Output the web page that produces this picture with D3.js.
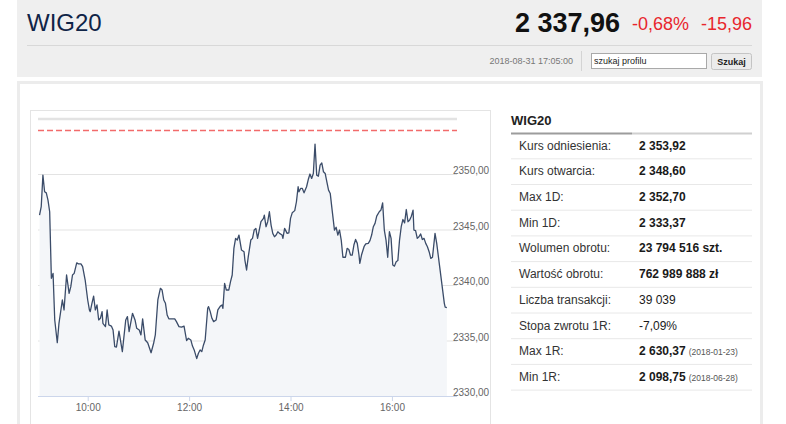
<!DOCTYPE html>
<html>
<head>
<meta charset="utf-8">
<script src="https://cdn.jsdelivr.net/npm/d3@7"></script>
<style>
    body { margin: 0; background: #fff; }
    svg text { font-family: "Liberation Sans", Arial, sans-serif; }
</style>
</head>
<body>
<div id="page"></div>
<script>

// intraday quotes WIG20, 2018-08-31
const times = [
    "09:03","09:05","09:07","09:09","09:11","09:13","09:15","09:17","09:19","09:21",
    "09:24","09:26","09:30","09:32","09:35","09:38","09:40","09:42","09:44","09:47",
    "09:49","09:52","09:54","09:57","10:00","10:02","10:03","10:05","10:07","10:09",
    "10:11","10:13","10:15","10:17","10:18","10:21","10:23","10:25","10:28","10:30",
    "10:32","10:34","10:37","10:41","10:45","10:47","10:49","10:53","10:56","10:58",
    "11:01","11:03","11:05","11:08","11:11","11:15","11:18","11:20","11:23","11:26",
    "11:28","11:30","11:32","11:34","11:36","11:39","11:43","11:45","11:48","11:51",
    "11:54","11:57","11:59","12:02","12:04","12:06","12:09","12:11","12:13","12:15",
    "12:17","12:19","12:22","12:23","12:25","12:27","12:29","12:32","12:34","12:37",
    "12:39","12:40","12:42","12:44","12:47","12:49","12:51","12:53","12:55","12:57",
    "12:59","13:02","13:05","13:06","13:08","13:10","13:13","13:15","13:17","13:19",
    "13:21","13:23","13:25","13:28","13:29","13:31","13:33","13:35","13:37","13:39",
    "13:41","13:43","13:45","13:47","13:50","13:51","13:53","13:56","13:58","14:00",
    "14:02","14:05","14:07","14:09","14:10","14:12","14:14","14:16","14:19","14:21",
    "14:23","14:25","14:27","14:29","14:31","14:33","14:35","14:37","14:39","14:41",
    "14:43","14:45","14:47","14:49","14:52","14:54","14:56","14:58","15:00","15:02",
    "15:05","15:07","15:09","15:11","15:13","15:15","15:17","15:19","15:21","15:22",
    "15:24","15:27","15:29","15:32","15:34","15:36","15:38","15:40","15:42","15:45",
    "15:47","15:49","15:51","15:53","15:55","15:57","15:59","16:01","16:03","16:05",
    "16:07","16:09","16:11","16:13","16:15","16:17","16:19","16:21","16:23","16:25",
    "16:26","16:28","16:30","16:32","16:34","16:36","16:38","16:40","16:42","16:44",
    "16:46","16:48","16:51","16:53","16:56","16:59","17:02","17:03","17:05"
];

const quotes = [
    2346.3, 2347.05, 2349.9, 2348.4, 2348.3, 2347.65, 2346.6, 2340.6, 2341.05, 2336.85,
    2334.8, 2336.55, 2338.65, 2337.75, 2340.9, 2339.25, 2339.85, 2340.9, 2341.05, 2342.0,
    2341.9, 2341.9, 2341.65, 2340.45, 2338.65, 2337.75, 2337.6, 2338.35, 2339.0, 2337.75,
    2338.2, 2336.85, 2337.0, 2337.6, 2336.55, 2336.25, 2337.75, 2336.4, 2336.3, 2335.95,
    2334.45, 2334.4, 2335.85, 2334.0, 2336.85, 2337.15, 2335.8, 2337.45, 2336.85, 2336.1,
    2335.95, 2335.5, 2336.95, 2335.05, 2334.8, 2333.9, 2334.75, 2335.5, 2338.65, 2339.7,
    2339.55, 2338.65, 2338.35, 2337.3, 2336.95, 2336.95, 2336.95, 2336.7, 2336.25, 2336.2,
    2336.3, 2335.0, 2335.2, 2335.05, 2334.5, 2334.15, 2333.37, 2333.85, 2334.15, 2334.0,
    2334.6, 2335.05, 2337.9, 2338.05, 2337.6, 2337.0, 2336.7, 2336.85, 2337.75, 2338.1,
    2338.2, 2337.9, 2340.15, 2339.55, 2339.55, 2340.3, 2340.9, 2343.3, 2344.2, 2344.05,
    2344.5, 2343.15, 2343.0, 2342.25, 2341.35, 2342.55, 2344.05, 2344.2, 2344.95, 2345.1,
    2344.2, 2344.95, 2345.7, 2346.0, 2346.3, 2345.25, 2345.7, 2346.6, 2345.4, 2344.65,
    2344.35, 2344.5, 2344.8, 2344.65, 2344.5, 2344.2, 2345.1, 2344.65, 2344.7, 2346.0,
    2346.5, 2346.7, 2347.5, 2348.85, 2348.4, 2348.7, 2348.7, 2348.3, 2348.85, 2349.5,
    2350.0, 2349.6, 2350.05, 2352.7, 2349.9, 2349.8, 2350.8, 2351.0, 2350.2, 2350.05,
    2349.3, 2348.55, 2348.25, 2346.9, 2344.95, 2345.2, 2344.5, 2344.95, 2344.05, 2342.5,
    2342.5, 2343.3, 2343.2, 2342.7, 2342.7, 2343.6, 2344.1, 2343.75, 2342.7, 2341.95,
    2342.7, 2343.45, 2343.7, 2343.75, 2344.0, 2344.5, 2345.25, 2345.55, 2346.2, 2346.6,
    2346.75, 2347.4, 2344.95, 2344.05, 2342.5, 2344.8, 2344.2, 2341.8, 2341.7, 2342.1,
    2342.2, 2344.05, 2345.25, 2345.9, 2345.6, 2346.8, 2345.7, 2345.85, 2346.2, 2346.75,
    2344.95, 2344.9, 2344.2, 2344.35, 2344.6, 2344.1, 2344.2, 2343.75, 2343.45, 2343.0,
    2342.4, 2342.5, 2344.65, 2343.75, 2341.95, 2340.15, 2338.35, 2338.0, 2337.96
];

const yTicks = [2330, 2335, 2340, 2345, 2350, 2355];
const xTicks = ["10:00", "12:00", "14:00", "16:00"];
const xRange = ["09:00", "17:17"];
const refLevel = 2353.92;   // kurs odniesienia

// table on the right
const statLabels = ["Kurs odniesienia:", "Kurs otwarcia:", "Max 1D:", "Min 1D:", "Wolumen obrotu:",
    "Wartość obrotu:", "Liczba transakcji:", "Stopa zwrotu 1R:", "Max 1R:", "Min 1R:"];
const statValues = ["2 353,92", "2 348,60", "2 352,70", "2 333,37", "23 794 516 szt.",
    "762 989 888 zł", "39 039", "-7,09%", "2 630,37", "2 098,75"];
const statBold = [true, true, true, true, true, true, false, false, true, true];
const statDates = ["", "", "", "", "", "", "", "", "(2018-01-23)", "(2018-06-28)"];

// header
const indexName = "WIG20";
const lastQuote = "2 337,96";
const changePct = "-0,68%";
const changePts = "-15,96";
const stamp = "2018-08-31 17:05:00";

const parseTime = d3.timeParse("%H:%M");
const data = times.map((t, i) => ({time: parseTime(t), value: quotes[i]}));

const svg = d3.select("#page").append("svg")
    .attr("width", 786)
    .attr("height", 424);

// ---------- header box ----------
svg.append("rect")
    .attr("x", 17).attr("y", 0).attr("width", 745).attr("height", 77)
    .attr("fill", "#efefef");

svg.append("text")
    .attr("x", 27).attr("y", 31)
    .attr("font-size", 24).attr("fill", "#0f2447")
    .text(indexName);

svg.append("text")
    .attr("x", 620).attr("y", 31.5)
    .attr("text-anchor", "end")
    .attr("font-size", 27).attr("font-weight", "bold").attr("fill", "#111")
    .text(lastQuote);

svg.append("text")
    .attr("x", 632).attr("y", 30)
    .attr("font-size", 18).attr("fill", "#e8262d")
    .text(changePct);

svg.append("text")
    .attr("x", 752).attr("y", 30)
    .attr("text-anchor", "end")
    .attr("font-size", 18).attr("fill", "#e8262d")
    .text(changePts);

svg.append("line")
    .attr("x1", 27).attr("x2", 752).attr("y1", 45.5).attr("y2", 45.5)
    .attr("stroke", "#d8d8d8");

svg.append("text")
    .attr("x", 573).attr("y", 64)
    .attr("text-anchor", "end")
    .attr("font-size", 9).attr("fill", "#777")
    .text(stamp);

svg.append("line")
    .attr("x1", 581.5).attr("x2", 581.5).attr("y1", 51).attr("y2", 71)
    .attr("stroke", "#d4d4d4");

svg.append("rect")
    .attr("x", 591.5).attr("y", 53.5).attr("width", 115).attr("height", 15)
    .attr("fill", "#fff").attr("stroke", "#a9a9a9");

svg.append("text")
    .attr("x", 594).attr("y", 64)
    .attr("font-size", 9).attr("fill", "#222")
    .text("szukaj profilu");

svg.append("rect")
    .attr("x", 711.5).attr("y", 53.5).attr("width", 40).attr("height", 16)
    .attr("rx", 2)
    .attr("fill", "#ebebeb").attr("stroke", "#c4c4c4");

svg.append("text")
    .attr("x", 731.5).attr("y", 65)
    .attr("text-anchor", "middle")
    .attr("font-size", 9).attr("font-weight", "bold").attr("fill", "#222")
    .text("Szukaj");

// ---------- card ----------
svg.append("rect")
    .attr("x", 18.5).attr("y", 82.5).attr("width", 743).attr("height", 360)
    .attr("fill", "#fff").attr("stroke", "#ececec").attr("stroke-width", 3);

svg.append("rect")
    .attr("x", 30.5).attr("y", 110.5).attr("width", 460).attr("height", 340)
    .attr("fill", "#fff").attr("stroke", "#e4e4e4");

// ---------- chart ----------
const x = d3.scaleTime()
    .domain(xRange.map(parseTime))
    .range([37, 457]);

const y = d3.scaleLinear()
    .domain([2330, 2355])
    .range([396, 118.5]);

// gridlines
svg.append("g")
    .attr("class", "grid")
    .attr("transform", "translate(38,0)")
    .call(d3.axisLeft(y).tickValues(yTicks).tickSize(-419).tickFormat(""))
    .call(g => g.select(".domain").remove())
    .call(g => g.selectAll(".tick line")
        .attr("stroke", "#e3e3e3")
        .attr("stroke-width", d => d === 2355 ? 2.5 : 1));

// area + line
const area = d3.area()
    .x(d => x(d.time))
    .y0(y(2330))
    .y1(d => y(d.value));

const line = d3.line()
    .x(d => x(d.time))
    .y(d => y(d.value));

svg.append("path")
    .datum(data)
    .attr("d", area)
    .attr("fill", "#f4f6f9");

svg.append("path")
    .datum(data)
    .attr("d", line)
    .attr("fill", "none")
    .attr("stroke", "#3b4c69")
    .attr("stroke-width", 1.3)
    .attr("stroke-linejoin", "round");

// reference level (dashed)
svg.append("line")
    .attr("x1", 38).attr("x2", 457)
    .attr("y1", y(refLevel)).attr("y2", y(refLevel))
    .attr("stroke", "#f26b6b")
    .attr("stroke-width", 1.6)
    .attr("stroke-dasharray", "6,3");

// x axis
svg.append("g")
    .attr("class", "x axis")
    .attr("transform", `translate(0, ${y(2330)})`)
    .call(d3.axisBottom(x)
        .tickValues(xTicks.map(parseTime))
        .tickFormat(d3.timeFormat("%H:%M"))
        .tickSize(5)
        .tickSizeOuter(0)
        .tickPadding(3))
    .call(g => g.select(".domain").attr("stroke", "#ccd6eb").attr("d", "M38,0.5H457"))
    .call(g => g.selectAll(".tick line").attr("stroke", "#ccd6eb"))
    .call(g => g.selectAll(".tick text")
        .attr("fill", "#666").attr("font-size", 10)
        .attr("font-family", "'Liberation Sans', Arial, sans-serif"));

// y labels on the right
svg.append("g")
    .attr("class", "y axis")
    .attr("transform", "translate(453,0)")
    .call(d3.axisRight(y)
        .tickValues(yTicks.filter(v => v < 2355))
        .tickSize(0)
        .tickPadding(0)
        .tickFormat(d => d3.format(".2f")(d).replace(".", ",")))
    .call(g => g.select(".domain").remove())
    .call(g => g.selectAll(".tick text")
        .attr("fill", "#666").attr("font-size", 10).attr("dy", "-0.05em")
        .attr("font-family", "'Liberation Sans', Arial, sans-serif"));

// ---------- table ----------
svg.append("text")
    .attr("x", 511).attr("y", 124.5)
    .attr("font-size", 13).attr("font-weight", "bold").attr("fill", "#222")
    .text(indexName);

svg.append("line")
    .attr("x1", 511).attr("x2", 632).attr("y1", 133.5).attr("y2", 133.5)
    .attr("stroke", "#9c9c9c").attr("stroke-width", 2);
svg.append("line")
    .attr("x1", 632).attr("x2", 752).attr("y1", 133.5).attr("y2", 133.5)
    .attr("stroke", "#d0d0d0").attr("stroke-width", 2);

const rowY = i => 145.3 + i * 25.7;

const rows = svg.append("g").attr("class", "stats")
    .selectAll("g")
    .data(statLabels)
    .enter()
    .append("g")
    .attr("transform", (d, i) => `translate(0, ${rowY(i)})`);

rows.append("text")
    .attr("x", 519).attr("y", 4.3)
    .attr("font-size", 12).attr("fill", "#333")
    .text(d => d);

rows.append("text")
    .attr("class", "val")
    .attr("x", 639).attr("y", 4.3)
    .attr("font-size", 12)
    .attr("font-weight", (d, i) => statBold[i] ? "bold" : "normal")
    .attr("fill", "#1a1a1a")
    .text((d, i) => statValues[i]);

rows.each(function(d, i) {
    if (!statDates[i]) return;
    let w = d3.select(this).select(".val").node().getComputedTextLength();
    d3.select(this).append("text")
        .attr("x", 639 + w + 3).attr("y", 4)
        .attr("font-size", 8.5).attr("fill", "#555")
        .text(statDates[i]);
});

rows.append("line")
    .attr("x1", 511).attr("x2", 752)
    .attr("y1", 13.5).attr("y2", 13.5)
    .attr("stroke", "#e8e8e8");

</script>
</body>
</html>
